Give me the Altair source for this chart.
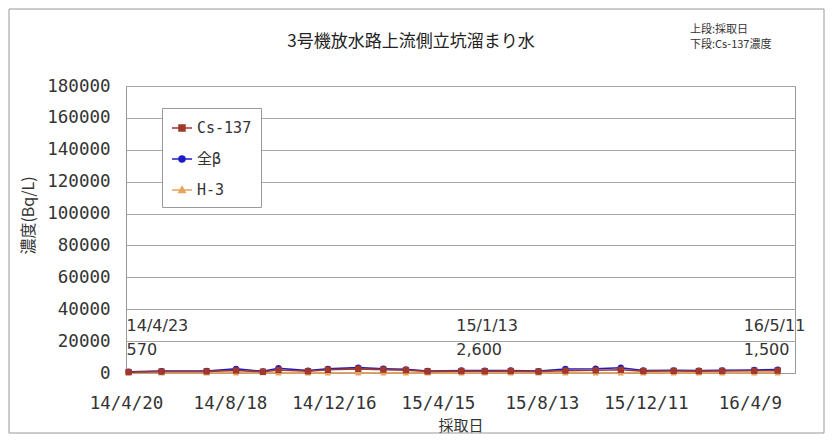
import altair as alt
import pandas as pd

# ---------------- data ----------------
dates = [
    "2014/04/23", "2014/05/31", "2014/07/22", "2014/08/25", "2014/09/25",
    "2014/10/13", "2014/11/16", "2014/12/09", "2015/01/13", "2015/02/11",
    "2015/03/09", "2015/04/03", "2015/05/12", "2015/06/08", "2015/07/08",
    "2015/08/09", "2015/09/09", "2015/10/14", "2015/11/12", "2015/12/08",
    "2016/01/12", "2016/02/10", "2016/03/08", "2016/04/14", "2016/05/11",
]
cs137 = [570, 900, 1000, 1600, 800, 1900, 1100, 2000, 2600, 2100,
         1800, 1000, 1200, 1100, 1200, 900, 1500, 1700, 2000, 1200,
         1300, 1200, 1300, 1400, 1500]
beta = [800, 1200, 1300, 2600, 1000, 3000, 1500, 2600, 3400, 2700,
        2300, 1300, 1600, 1500, 1600, 1200, 2500, 2700, 3300, 1600,
        1700, 1500, 1700, 1900, 2100]
h3 = [150, 120, 130, 140, 300, 120, 110, 130, 150, 140,
      120, 110, 100, 120, 130, 110, 120, 130, 140, 120,
      110, 100, 120, 130, 120]

series_names = ["Cs-137", "全β", "H-3"]
series_colors = ["#A0382C", "#1C1CC8", "#E8A45C"]
series_shapes = ["square", "circle", "triangle-up"]
draw_order = ["H-3", "全β", "Cs-137"]

x_ticks = [(2014, 4, 20), (2014, 8, 18), (2014, 12, 16), (2015, 4, 15),
           (2015, 8, 13), (2015, 12, 11), (2016, 4, 9)]
x_domain = [(2014, 4, 20), (2016, 5, 31)]
y_ticks = [0, 20000, 40000, 60000, 80000, 100000, 120000, 140000, 160000, 180000]

# annotations: (date of sample, date label, Cs-137 label)
ann_dates = ["2014/04/23", "2015/01/13", "2016/05/11"]
ann_date_text = ["14/4/23", "15/1/13", "16/5/11"]
ann_value_text = ["570", "2,600", "1,500"]
ann_dx = [-2, 98, -34]

title_text = "3号機放水路上流側立坑溜まり水"
note_text = "上段:採取日\n下段:Cs-137濃度"

# ---------------- tables ----------------
rows = []
for name, vals in zip(series_names, [cs137, beta, h3]):
    for d, v in zip(dates, vals):
        rows.append({"date": d, "series": name, "value": v})
df = pd.DataFrame(rows)

ann = pd.DataFrame({"date": ann_dates, "dtext": ann_date_text,
                    "vtext": ann_value_text})

JP = "Noto Sans CJK JP"
MONO = "DejaVu Sans Mono, Noto Sans CJK JP"
SANS = "DejaVu Sans, Noto Sans CJK JP"


def dt(t):
    return alt.DateTime(year=t[0], month=t[1], date=t[2])


x_enc = alt.X(
    "date:T",
    scale=alt.Scale(domain=[dt(t) for t in x_domain]),
    axis=alt.Axis(
        values=[dt(t) for t in x_ticks], format="%y/%-m/%-d",
        title="採取日", titleFont=JP, titleFontSize=15, titleFontWeight="normal",
        titleColor="#333", titlePadding=7,
        labelFont=MONO, labelFontSize=17.5, labelColor="#333", labelPadding=21,
        labelFlush=False, labelOverlap=False,
        grid=False, ticks=False, domainColor="#999",
    ),
)
y_enc = alt.Y(
    "value:Q",
    scale=alt.Scale(domain=[0, 180000], nice=False),
    axis=alt.Axis(
        values=y_ticks, format="d", labelOverlap=False, tickCount=10,
        title="濃度(Bq/L)", titleFont=JP, titleFontSize=16, titleFontWeight="normal",
        titleColor="#333", titleX=-90, titleY=129,
        labelFont=MONO, labelFontSize=17.5, labelColor="#333", labelPadding=16,
        grid=True, gridColor="#A6A6A6", ticks=False, domainColor="#999",
    ),
)

legend_paths = [
    "M-1,0L1,0M-0.3,-0.3L0.3,-0.3L0.3,0.3L-0.3,0.3Z",
    "M-1,0L1,0M0.3,0A0.3,0.3,0,1,1,-0.3,0A0.3,0.3,0,1,1,0.3,0Z",
    "M-1,0L1,0M0,-0.33L0.32,0.25L-0.32,0.25Z",
]

legend = alt.Legend(
    title=None, orient="none", legendX=36, legendY=22,
    padding=9, rowPadding=12, strokeColor="#999", fillColor="white",
    labelFont=MONO, labelFontSize=15, labelColor="#333", labelOffset=4,
    symbolSize=400, symbolStrokeWidth=1.5, symbolOpacity=1,
)

base = alt.Chart(df)
layers = []

one = alt.Chart(pd.DataFrame({"k": [0]}))
frame = one.mark_rect(filled=False, stroke="#999", strokeWidth=1).encode(
    x=alt.value(-117), x2=alt.value(698), y=alt.value(-77), y2=alt.value(347))
layers.append(frame)

# axes carrier (invisible) so the axes are defined once
layers.append(base.mark_line(opacity=0).encode(x=x_enc, y=y_enc, detail="series:N"))

for name in draw_order:
    i = series_names.index(name)
    layers.append(
        base.transform_filter(alt.datum.series == name)
        .mark_line(strokeWidth=1.6, color=series_colors[i])
        .encode(x="date:T", y="value:Q")
    )
for name in draw_order:
    i = series_names.index(name)
    layers.append(
        base.transform_filter(alt.datum.series == name)
        .mark_point(filled=True, size=40, opacity=1, shape=series_shapes[i],
                    color=series_colors[i])
        .encode(x="date:T", y="value:Q")
    )

# legend-only layer (no rows drawn; entries come from the fixed scale domains)
layers.append(
    base.transform_filter("datum.value < 0").mark_point(
        filled=True, size=400, opacity=1, strokeWidth=1.5).encode(
        x="date:T", y="value:Q",
        color=alt.Color("series:N", scale=alt.Scale(domain=series_names, range=series_colors), legend=legend),
        stroke=alt.Stroke("series:N", scale=alt.Scale(domain=series_names, range=series_colors), legend=legend),
        shape=alt.Shape("series:N", scale=alt.Scale(domain=series_names, range=legend_paths), legend=legend),
    )
)

for i in range(len(ann_dates)):
    sub = alt.Chart(ann.iloc[[i]])
    layers.append(sub.mark_text(align="left", baseline="middle", font=SANS,
                                fontSize=16, color="#333", dx=ann_dx[i], dy=-47)
                  .encode(x="date:T", y=alt.datum(0), text="dtext:N"))
    layers.append(sub.mark_text(align="left", baseline="middle", font=SANS,
                                fontSize=16, color="#333", dx=ann_dx[i], dy=-23)
                  .encode(x="date:T", y=alt.datum(0), text="vtext:N"))

layers.append(one.mark_text(align="center", baseline="middle", font=JP, fontSize=17,
                            color="#222").encode(
    x=alt.value(285), y=alt.value(-44), text=alt.value(title_text)))
layers.append(one.mark_text(align="left", baseline="middle", font=JP, fontSize=11,
                            color="#333", lineBreak="\n", lineHeight=15).encode(
    x=alt.value(564), y=alt.value(-56), text=alt.value(note_text)))

chart = alt.layer(*layers).properties(
    width=669, height=287,
    padding={"left": 118, "top": 78, "right": 30, "bottom": 62},
    autosize=alt.AutoSizeParams(type="none"),
    background="white",
).configure_view(stroke="#999", strokeWidth=1)

chart.save("out.html", embed_options={"renderer": "svg", "actions": False})
